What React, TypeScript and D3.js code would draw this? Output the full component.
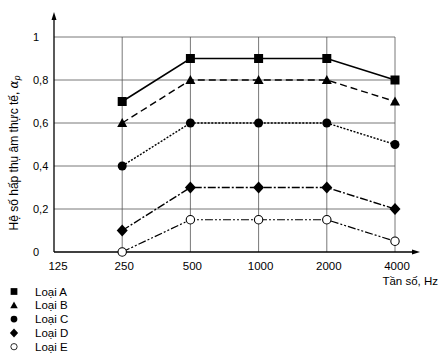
import React from "react";
import * as d3 from "d3";

const categories = ["125", "250", "500", "1000", "2000", "4000"];
const yTicks = [0, 0.2, 0.4, 0.6, 0.8, 1];
const dataFreqs = ["250", "500", "1000", "2000", "4000"];
const loaiA = [0.7, 0.9, 0.9, 0.9, 0.8];
const loaiB = [0.6, 0.8, 0.8, 0.8, 0.7];
const loaiC = [0.4, 0.6, 0.6, 0.6, 0.5];
const loaiD = [0.1, 0.3, 0.3, 0.3, 0.2];
const loaiE = [0.0, 0.15, 0.15, 0.15, 0.05];
const seriesNames = ["Loại A", "Loại B", "Loại C", "Loại D", "Loại E"];

const W = 441, H = 358;
const x0 = 54, x1 = 395;
const y0 = 252, y1 = 37;

type Marker = "square" | "triangle" | "circle" | "diamond" | "open";
const styles: { dash: string; marker: Marker; width: number }[] = [
  { dash: "", marker: "square", width: 1.6 },
  { dash: "7,4", marker: "triangle", width: 1.4 },
  { dash: "2,1.5", marker: "circle", width: 1.4 },
  { dash: "8,2,2,2", marker: "diamond", width: 1.4 },
  { dash: "8,2,2,2,2,2", marker: "open", width: 1.2 },
];

function MarkerShape({ type, cx, cy }: { type: Marker; cx: number; cy: number }) {
  switch (type) {
    case "square":
      return <rect x={cx - 4.5} y={cy - 4.5} width={9} height={9} fill="#000" />;
    case "triangle":
      return <path d={`M${cx},${cy - 5} L${cx + 5},${cy + 4} L${cx - 5},${cy + 4} Z`} fill="#000" />;
    case "circle":
      return <circle cx={cx} cy={cy} r={4.5} fill="#000" />;
    case "diamond":
      return <path d={`M${cx},${cy - 6} L${cx + 5.5},${cy} L${cx},${cy + 6} L${cx - 5.5},${cy} Z`} fill="#000" />;
    case "open":
      return <circle cx={cx} cy={cy} r={4.2} fill="#fff" stroke="#000" strokeWidth={1.1} />;
  }
}

export default function App() {
  const x = d3.scalePoint<string>().domain(categories).range([x0, x1]);
  const y = d3.scaleLinear().domain([0, 1]).range([y0, y1]);
  const all = [loaiA, loaiB, loaiC, loaiD, loaiE];
  const line = d3
    .line<[string, number]>()
    .x((d) => x(d[0])!)
    .y((d) => y(d[1]));
  const font = "Liberation Sans, Arial, sans-serif";

  return (
    <svg width={W} height={H} style={{ position: "absolute", left: 0, top: 0, background: "#fff" }} fontFamily={font}>
      {/* grid */}
      {yTicks.filter((t) => t > 0).map((t) => (
        <line key={"h" + t} x1={x0} x2={x1} y1={y(t)} y2={y(t)} stroke="#555" strokeWidth={0.8} />
      ))}
      {categories.slice(1).map((c) => (
        <line key={"v" + c} x1={x(c)} x2={x(c)} y1={y1} y2={y0} stroke="#555" strokeWidth={0.8} />
      ))}
      {/* axes */}
      <line x1={x0} x2={x0} y1={y0} y2={17} stroke="#000" strokeWidth={1.3} />
      <path d={`M${x0},12 L${x0 + 2.5},20 L${x0 - 2.5},20 Z`} fill="#000" />
      <line x1={x0} x2={413} y1={y0} y2={y0} stroke="#000" strokeWidth={1.3} />
      <path d={`M420,${y0} L412,${y0 - 2.5} L412,${y0 + 2.5} Z`} fill="#000" />
      {/* y tick labels */}
      {yTicks.map((t) => (
        <text key={"yl" + t} x={33} y={y(t) + 4} fontSize={11} fill="#000">
          {t === 0 ? "0" : t === 1 ? "1" : d3.format(".1f")(t).replace(".", ",")}
        </text>
      ))}
      {/* x tick labels */}
      {categories.map((c, i) => (
        <text key={"xl" + c} x={x(c)! + (i === 0 ? 4 : 2)} y={270} fontSize={11.5} textAnchor="middle" fill="#000">
          {c}
        </text>
      ))}
      <text x={438} y={285} fontSize={11.5} textAnchor="end" fill="#000">Tần số, Hz</text>
      {/* y title */}
      <text transform={`translate(18,153) rotate(-90)`} fontSize={12} textAnchor="middle" fill="#000">
        Hệ số hấp thụ âm thực tế, <tspan fontStyle="italic" fontFamily="DejaVu Serif, serif">α</tspan>
        <tspan fontStyle="italic" fontSize={8.5} dy={2}>p</tspan>
      </text>
      {/* series */}
      {all.map((vals, si) => {
        const pts: [string, number][] = dataFreqs.map((f, i) => [f, vals[i]]);
        return (
          <g key={"s" + si}>
            <path d={line(pts)!} fill="none" stroke="#000" strokeWidth={styles[si].width} strokeDasharray={styles[si].dash} />
            {pts.map((p, i) => (
              <MarkerShape key={i} type={styles[si].marker} cx={x(p[0])!} cy={y(p[1])} />
            ))}
          </g>
        );
      })}
      {/* legend */}
      {seriesNames.map((n, i) => {
        const ly = 291.5 + i * 13.8;
        return (
          <g key={"lg" + n}>
            <g transform={`translate(14,${ly}) scale(0.75) translate(-14,${-ly})`}>
              <MarkerShape type={styles[i].marker} cx={14} cy={ly} />
            </g>
            <text x={35} y={ly + 4} fontSize={11.5} fill="#000">{n}</text>
          </g>
        );
      })}
    </svg>
  );
}
